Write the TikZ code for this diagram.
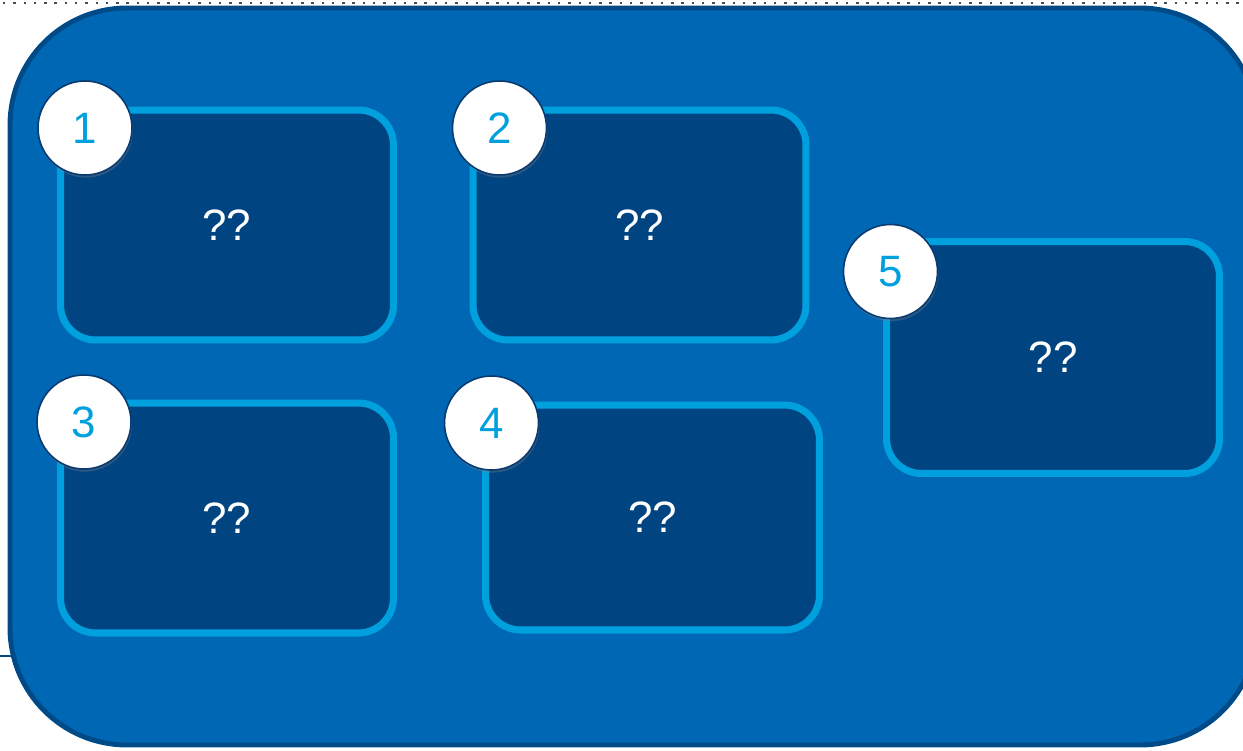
\documentclass[tikz,border=0pt]{standalone}
\usepackage{fontspec}
\setmainfont{Liberation Sans}
\usetikzlibrary{shadows}
\definecolor{frameblue}{RGB}{0,103,180}
\definecolor{framedark}{RGB}{0,75,135}
\definecolor{boxfill}{RGB}{0,69,130}
\definecolor{boxline}{RGB}{0,160,223}
\definecolor{badgeline}{RGB}{10,58,112}
\begin{document}
\begin{tikzpicture}[x=0.02cm, y=-0.02cm]
  \tikzstyle{frame} = [draw=framedark, fill=frameblue, line width=2.8pt, rounded corners=2.34cm]
  \tikzstyle{panel} = [rectangle, draw=boxline, fill=boxfill, line width=4pt, rounded corners=0.7cm, minimum width=6.66cm, minimum height=4.6cm, text=white, font=\fontsize{25}{30}\selectfont, drop shadow={shadow xshift=1pt, shadow yshift=-1.5pt, opacity=0.25}]
  \tikzstyle{badge} = [circle, draw=badgeline, fill=white, line width=0.9pt, minimum size=1.88cm, inner sep=0pt, text=boxline, font=\fontsize{25}{30}\selectfont, drop shadow={shadow xshift=0.5pt, shadow yshift=-1.5pt, opacity=0.35}]
  \useasboundingbox (0,0) rectangle (1243,750);

  % Outer frame
  \draw[gray!60!black, line width=1.4pt, dash pattern=on 1.4pt off 4.45pt] (3,3) -- (1243,3);
  \draw[framedark, line width=0.9pt] (0,656) -- (14,656);
  \draw[frame] (10,8) rectangle (1257,745);

  % Panels
  \node (p1) [panel] at (227,225) {\raisebox{-2pt}{??}};
  \node (p2) [panel] at (639.5,225) {\raisebox{-2pt}{??}};
  \node (p3) [panel] at (227,518) {\raisebox{-2pt}{??}};
  \node (p4) [panel, minimum width=6.68cm, minimum height=4.5cm] at (652.5,517.5) {\raisebox{-2pt}{??}};
  \node (p5) [panel, minimum height=4.64cm] at (1053,357.5) {\raisebox{-2pt}{??}};

  % Badges
  \node (b1) [badge] at (85,128) {1};
  \node (b2) [badge] at (499.5,128) {2};
  \node (b3) [badge] at (84,422) {3};
  \node (b4) [badge] at (491.5,423) {4};
  \node (b5) [badge] at (890.5,271.5) {5};

\end{tikzpicture}
\end{document}
